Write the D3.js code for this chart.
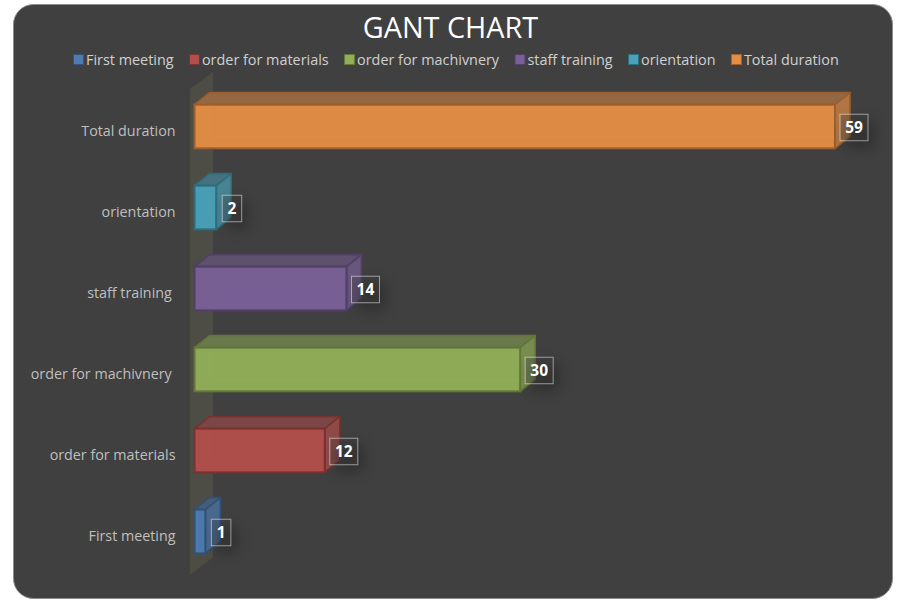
<!DOCTYPE html>
<html><head><meta charset="utf-8">
<script src="https://cdn.jsdelivr.net/npm/d3@7"></script>
<style>html,body{margin:0;padding:0;background:#fff}svg{display:block}text{font-family:"Open Sans","Noto Sans",sans-serif;white-space:pre}</style>
</head><body><svg id="c" width="897" height="605"></svg>
<script>
const categories = ["First meeting","order for materials","order for machivnery","staff training","orientation","Total duration"];
const axisLabels = ["First meeting","order for materials","order for machivnery ","staff training ","orientation","Total duration"];
const values = [1,12,30,14,2,59];
const seriesColors = ["#4f81bd","#c0504d","#9bbb59","#8064a2","#4bacc6","#f79646"];
const title = "GANT CHART";

const svg = d3.select("#c");
const bg = "#404040";
const mix = (c,t) => d3.interpolateRgb(bg,c)(t);
const stroke = (c,k) => d3.color(c).darker(k).formatHex();

const defs = svg.append("defs");
defs.append("filter").attr("id","blur").attr("x","-80%").attr("y","-80%").attr("width","260%").attr("height","260%")
  .append("feGaussianBlur").attr("stdDeviation",7);

svg.append("rect").attr("x",13.5).attr("y",4.5).attr("width",879).attr("height",594).attr("rx",20)
  .attr("fill",bg).attr("stroke","#8c8c8c").attr("stroke-width",1);

svg.append("text").attr("x",450.5).attr("y",37.5).attr("text-anchor","middle")
  .attr("font-size",28.8).attr("fill","#fff").text(title);

const x = d3.scaleLinear().domain([0,59]).range([194.5,835]);
const y = d3.scaleBand().domain(d3.range(categories.length).reverse()).range([86,572]).paddingInner(0.46).paddingOuter(0.23);
const dx = 15, dy = -12;
const y0 = 89, y1 = 575;

// legend: flows from measured text widths
const legend = svg.append("g").attr("transform","translate(73,0)");
let lx = 0;
categories.forEach((c,i)=>{
  const g = legend.append("g").attr("transform",`translate(${lx},0)`);
  g.append("rect").attr("x",0.5).attr("y",54.5).attr("width",10).attr("height",10)
    .attr("fill",mix(seriesColors[i],.9)).attr("stroke",stroke(seriesColors[i],1.2));
  const t = g.append("text").attr("x",13).attr("y",65).attr("font-size",14.4).attr("fill","#d0d0d0").text(c);
  lx += 13 + t.node().getComputedTextLength() + 15.4;
});

// back wall
const wallL = 190, wallR = 213;
svg.append("polygon").attr("fill","#4d4c45")
  .attr("points",[[wallL,y0],[wallR,y0-17],[wallR,y1-18],[wallL,y1]].join(" "));

// category labels
const labels = svg.append("g");
axisLabels.forEach((c,i)=>{
  labels.append("text").attr("x",175.5).attr("y",y(i)+y.bandwidth()/2+9)
    .attr("text-anchor","end").attr("font-size",14.3).attr("fill","#bfbfbf").text(c);
});

// 3D bars
const bars = svg.selectAll("g.bar").data(values).join("g").attr("class","bar");
bars.each(function(v,i){
  const g = d3.select(this), c = seriesColors[i];
  const X0 = x(0), X1 = x(v), T = y(i), B = T + y.bandwidth();
  const edge = stroke(c,1.3);
  const pts = a => a.join(" ");
  g.append("polygon").attr("points",pts([[X0,T],[X0+dx,T+dy],[X1+dx,T+dy],[X1,T]]))
    .attr("fill",mix(c,.46)).attr("stroke",edge).attr("stroke-width",1.6).attr("stroke-linejoin","round");
  g.append("polygon").attr("points",pts([[X1,T],[X1+dx,T+dy],[X1+dx,B+dy],[X1,B]]))
    .attr("fill",mix(c,.62)).attr("stroke",edge).attr("stroke-width",1.6).attr("stroke-linejoin","round");
  g.append("rect").attr("x",X0).attr("y",T).attr("width",X1-X0).attr("height",B-T)
    .attr("fill",mix(c,.86)).attr("stroke",edge).attr("stroke-width",2);
  // faint hidden back edges seen through the translucent front
  g.append("path").attr("d",`M${X0+dx},${T+1}V${B+dy}H${X1-1}`)
    .attr("fill","none").attr("stroke",d3.color(c).brighter(.3)).attr("stroke-opacity",.1);
});

// data labels
const dl = svg.selectAll("g.dl").data(values).join("g").attr("class","dl");
dl.each(function(v,i){
  const g = d3.select(this);
  const w = String(v).length>1 ? 28 : 19.5, h = 26.5;
  const bx = x(v)+ (v>=10?4.5:5.5), by = y(i)+y.bandwidth()/2-h/2+0.5;
  g.append("rect").attr("x",bx+6).attr("y",by+7).attr("width",w).attr("height",h)
    .attr("fill","#000").attr("opacity",.28).attr("filter","url(#blur)");
  g.append("rect").attr("x",bx+.5).attr("y",by+.5).attr("width",w).attr("height",h)
    .attr("fill",bg).attr("fill-opacity",.3).attr("stroke","#fff").attr("stroke-opacity",.5);
  g.append("text").attr("x",bx+w/2+.5).attr("y",by+h/2+6).attr("text-anchor","middle")
    .attr("font-size",15.5).attr("font-weight",700).attr("fill","#fff").text(v);
});
</script></body></html>
